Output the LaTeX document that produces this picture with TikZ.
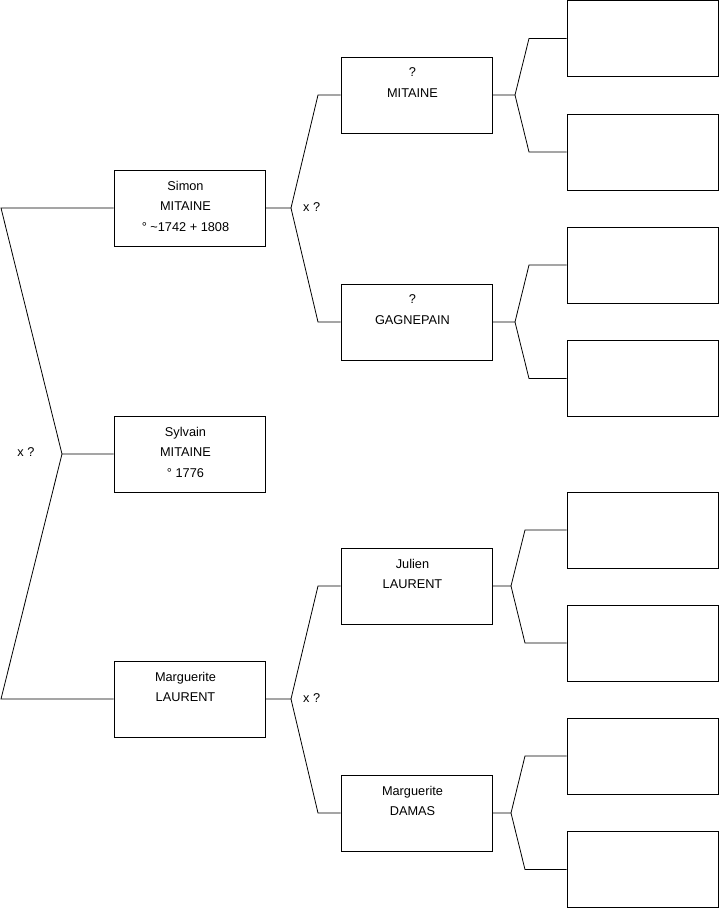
\documentclass[tikz,border=0pt]{standalone}
\usepackage{fontspec}
\setmainfont{Liberation Sans}
\usetikzlibrary{positioning}

\begin{document}
\begin{tikzpicture}[
  x=1pt, y=-1pt,
  box/.style={draw, line width=0.8pt, minimum width=151pt, minimum height=76pt, inner sep=0pt},
  who/.style={anchor=north, align=center, inner sep=0pt, xshift=-4pt, font=\fontsize{12.75}{20.5}\selectfont},
  link/.style={line width=0.8pt, black},
  tag/.style={font=\fontsize{12.75}{14}\selectfont, inner sep=0pt},
]
  \useasboundingbox (0,0) rectangle (719,908);

  % Child
  \node[box] (sylvain) at (189.5,454) {};
  \node[who, below=11pt of sylvain.north] (sylvain-t) {Sylvain\\MITAINE\\° 1776};

  % Parents
  \node[box] (simon) at (189.5,208) {};
  \node[who, below=11pt of simon.north] (simon-t) {Simon\\MITAINE\\° \textasciitilde1742 + 1808};
  \node[box] (marguerite) at (189.5,699) {};
  \node[who, below=11pt of marguerite.north] (marguerite-t) {Marguerite\\LAURENT};

  % Grandparents
  \node[box] (mitaine) at (416.5,95) {};
  \node[who, below=11pt of mitaine.north] (mitaine-t) {?\\MITAINE};
  \node[box] (gagnepain) at (416.5,322) {};
  \node[who, below=11pt of gagnepain.north] (gagnepain-t) {?\\GAGNEPAIN};
  \node[box] (julien) at (416.5,586) {};
  \node[who, below=11pt of julien.north] (julien-t) {Julien\\LAURENT};
  \node[box] (damas) at (416.5,813) {};
  \node[who, below=11pt of damas.north] (damas-t) {Marguerite\\DAMAS};

  % Great-grandparents (empty)
  \foreach \y [count=\i] in {38.5,152,265,378.5,530,643,756,869.5}
    \node[box] (anc\i) at (642.5,\y) {};

  % Junctions
  \coordinate (j-sylvain) at (62,454);
  \coordinate (j-simon) at (291,208);
  \coordinate (j-marguerite) at (291,699);
  \coordinate (j-mitaine) at (515,95);
  \coordinate (j-gagnepain) at (515,322);
  \coordinate (j-julien) at (511,586);
  \coordinate (j-damas) at (511,813);

  % Marriage tags
  \node[tag] (x-sylvain) at (26,452) {x ?};
  \node[tag, anchor=west] (x-simon) at (303,207) {x ?};
  \node[tag, anchor=west] (x-marguerite) at (303,698) {x ?};

  % Forks
  \draw[link] (sylvain.west) -- (j-sylvain) -- (1,0 |- simon.west) -- (simon.west);
  \draw[link] (j-sylvain) -- (1,0 |- marguerite.west) -- (marguerite.west);

  \draw[link] (simon.east) -- (j-simon) -- (318,0 |- mitaine.west) -- (mitaine.west);
  \draw[link] (j-simon) -- (318,0 |- gagnepain.west) -- (gagnepain.west);

  \draw[link] (marguerite.east) -- (j-marguerite) -- (318,0 |- julien.west) -- (julien.west);
  \draw[link] (j-marguerite) -- (318,0 |- damas.west) -- (damas.west);

  \draw[link] (mitaine.east) -- (j-mitaine) -- (529,0 |- anc1.west) -- (anc1.west);
  \draw[link] (j-mitaine) -- (529,0 |- anc2.west) -- (anc2.west);

  \draw[link] (gagnepain.east) -- (j-gagnepain) -- (529,0 |- anc3.west) -- (anc3.west);
  \draw[link] (j-gagnepain) -- (529,0 |- anc4.west) -- (anc4.west);

  \draw[link] (julien.east) -- (j-julien) -- (525,0 |- anc5.west) -- (anc5.west);
  \draw[link] (j-julien) -- (525,0 |- anc6.west) -- (anc6.west);

  \draw[link] (damas.east) -- (j-damas) -- (525,0 |- anc7.west) -- (anc7.west);
  \draw[link] (j-damas) -- (525,0 |- anc8.west) -- (anc8.west);
\end{tikzpicture}
\end{document}
